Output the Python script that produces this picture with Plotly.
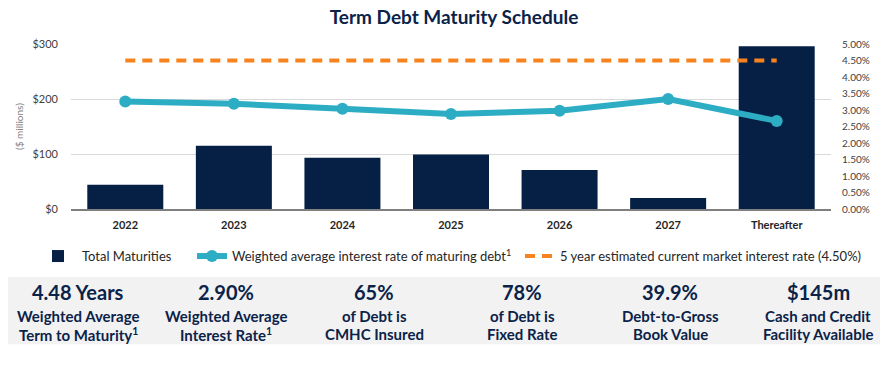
import plotly.graph_objects as go

categories = ["2022", "2023", "2024", "2025", "2026", "2027", "Thereafter"]
maturities = [44, 115, 93, 99, 71, 20, 296]
weighted_rate = [0.0326, 0.0319, 0.0304, 0.0288, 0.0298, 0.0333, 0.0267]
market_rate = [0.045] * 7

left_ticks = [0, 100, 200, 300]
left_labels = ["$0", "$100", "$200", "$300"]
right_ticks = [i * 0.005 for i in range(11)]
right_labels = [f"{t*100:.2f}%" for t in right_ticks]

stat_values = ["4.48 Years", "2.90%", "65%", "78%", "39.9%", "$145m"]
stat_line1 = ["Weighted Average", "Weighted Average", "of Debt is", "of Debt is", "Debt-to-Gross", "Cash and Credit"]
stat_line2 = ["Term to Maturity<sup>1</sup>", "Interest Rate<sup>1</sup>", "CMHC Insured", "Fixed Rate", "Book Value", "Facility Available"]

NAVY = "#061F45"
TEAL = "#2DADC4"
ORANGE = "#F7831F"
TXT = "#0B2249"
FONT = "Lato"

# page offset (browser body margin)
OFF = 8
W, H = 888 - OFF, 367 - OFF
PL, PR, PT, PB = 71, 831, 44.3, 209  # plot area in page pixels


def px(xp):
    return (xp - PL) / (PR - PL)


def py(yp):
    return (PB - yp) / (PB - PT)


fig = go.Figure()
fig.add_trace(go.Bar(x=categories, y=maturities, name="Total Maturities",
                     marker=dict(color=NAVY, line=dict(width=0)), yaxis="y", legend="legend"))
fig.add_trace(go.Scatter(x=categories, y=weighted_rate, yaxis="y2", mode="lines+markers",
                         name="Weighted average interest rate of maturing debt<sup>1</sup>",
                         line=dict(color=TEAL, width=6), marker=dict(color=TEAL, size=12),
                         legend="legend2"))
fig.add_trace(go.Scatter(x=categories, y=market_rate, yaxis="y2", mode="lines",
                         name="5 year estimated current market interest rate (4.50%)",
                         line=dict(color=ORANGE, width=4, dash="10px,7px"), legend="legend3"))

leg_font = dict(family=FONT, size=13, color="#262626")
leg_common = dict(orientation="h", yanchor="middle", y=py(256), xanchor="left",
                  font=leg_font, bgcolor="rgba(0,0,0,0)", borderwidth=0)

fig.update_layout(
    width=W, height=H,
    margin=dict(l=PL - OFF, r=W - (PR - OFF), t=PT - OFF, b=H - (PB - OFF)),
    paper_bgcolor="white", plot_bgcolor="white",
    font=dict(family=FONT, color="#404040"),
    bargap=0.3,
    showlegend=True,
    legend=dict(x=px(34), itemwidth=38, **leg_common),
    legend2=dict(x=px(192), itemwidth=30, **leg_common),
    legend3=dict(x=px(520), itemwidth=30, **leg_common),
    title=dict(text="<b>Term Debt Maturity Schedule</b>", x=(454 - OFF) / W, xanchor="center",
               y=1 - (17.5 - OFF) / H, yanchor="middle", yref="container",
               font=dict(family=FONT, size=19, color=TXT)),
    xaxis=dict(tickfont=dict(family=FONT, size=11, color="#262626", weight="bold"),
               showline=True, linecolor="#7F7F7F", linewidth=1.5, ticks="",
               showgrid=False, ticklabelstandoff=5),
    yaxis=dict(range=[0, 300], tickvals=left_ticks, ticktext=left_labels,
               tickfont=dict(family=FONT, size=11, color="#404040"),
               showgrid=True, gridcolor="#D9D9D9", gridwidth=1, zeroline=False,
               ticklabelstandoff=12,
               title=dict(text="($ millions)", font=dict(family=FONT, size=10, color="#7F7F7F"), standoff=6)),
    yaxis2=dict(range=[0, 0.05], overlaying="y", side="right", tickvals=right_ticks,
                ticktext=right_labels, tickfont=dict(family=FONT, size=10, color="#404040"),
                showgrid=False, zeroline=False, ticklabelstandoff=10),
)

# bottom statistics panel
fig.add_shape(type="rect", xref="paper", yref="paper",
              x0=px(4), x1=px(880), y0=py(344), y1=py(277),
              fillcolor="#F2F2F2", line=dict(width=0), layer="below")

for i in range(6):
    cx = px(78 + 148 * i)
    fig.add_annotation(x=cx, y=py(292), xref="paper", yref="paper",
                       text=f"<b>{stat_values[i]}</b>", showarrow=False,
                       font=dict(family=FONT, size=20, color=TXT), xanchor="center", yanchor="middle")
    fig.add_annotation(x=cx, y=py(326), xref="paper", yref="paper",
                       text=f"<b>{stat_line1[i]}</b>", showarrow=False, borderpad=0,
                       font=dict(family=FONT, size=15, color=TXT), xanchor="center", yanchor="bottom")
    fig.add_annotation(x=cx, y=py(324), xref="paper", yref="paper",
                       text=f"<b>{stat_line2[i]}</b>", showarrow=False, borderpad=0,
                       font=dict(family=FONT, size=15, color=TXT), xanchor="center", yanchor="top")

fig.write_html("out.html")
